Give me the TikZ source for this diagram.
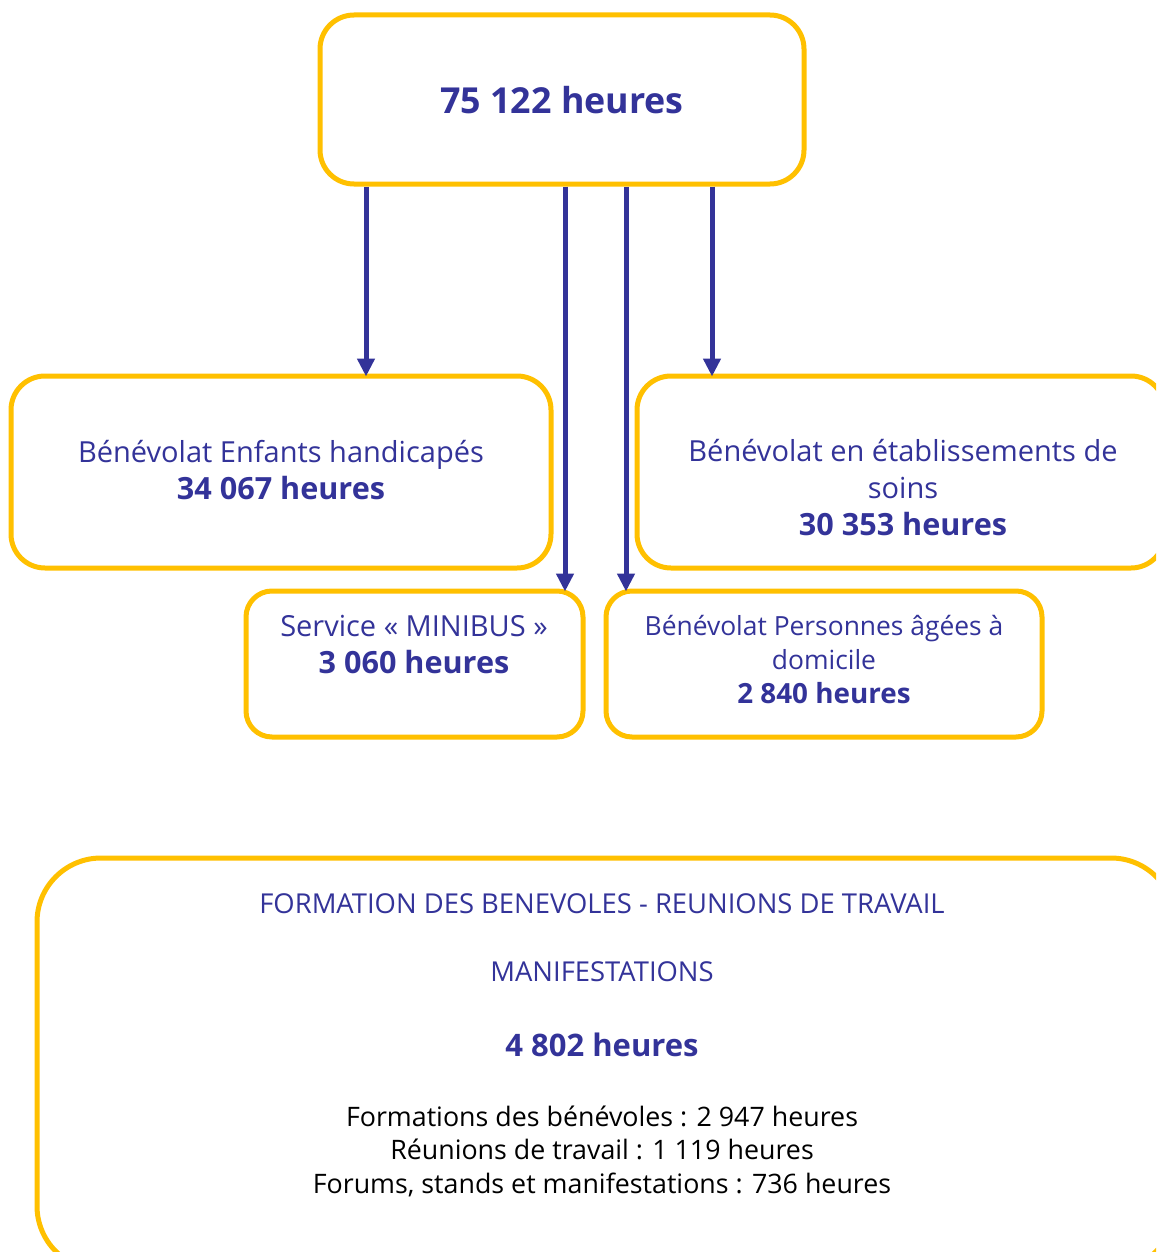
\documentclass[tikz,border=0pt]{standalone}
\usepackage{fontspec}
\setmainfont{Open Sans}
\usetikzlibrary{arrows.meta}
\definecolor{bleu}{HTML}{333399}
\definecolor{jaune}{HTML}{FFC000}
\begin{document}
\begin{tikzpicture}[x=0.5pt,y=-0.5pt,
    boite/.style={draw=jaune, line width=2.5pt, rounded corners=17pt, fill=white},
    texte/.style={text=bleu, align=center, font=\fontsize{14.5}{18.5}\selectfont},
    fleche/.style={draw=bleu, line width=2.5pt, shorten >=-1.5pt,
        -{Triangle[width=8.5pt,length=9pt]}}]
    \useasboundingbox (0,0) rectangle (1156,1252);
    \clip (0,0) rectangle (1156,1252);

    % les cadres
    \node[boite, minimum width=242pt, minimum height=84.5pt] (total) at (562,99.5) {};
    \node[boite, minimum width=270pt, minimum height=96pt] (enfants) at (281,472) {};
    \node[boite, minimum width=264pt, minimum height=96pt] (soins) at (901,472) {};
    \node[boite, minimum width=168.5pt, minimum height=73pt, rounded corners=13pt] (minibus) at (414.5,664) {};
    \node[boite, minimum width=218pt, minimum height=73pt, rounded corners=13pt] (agees) at (824,664) {};
    \node[boite, minimum width=569pt, minimum height=206pt, rounded corners=32pt] (formation) at (606,1064) {};

    % les textes
    \node[texte, font=\bfseries\fontsize{17.9}{22}\selectfont] (totaltxt) at (562,100) {75 122 heures};
    \node[texte] (enfantstxt) at (281,470) {Bénévolat Enfants handicapés\\{\bfseries\fontsize{15.3}{18.5}\selectfont 34 067 heures}};
    \node[texte] (soinstxt) at (903,488) {Bénévolat en établissements de\\soins\\{\bfseries\fontsize{15.3}{18.5}\selectfont 30 353 heures}};
    \node[texte] (minibustxt) at (414,645) {Service « MINIBUS »\\{\bfseries\fontsize{15.3}{18.5}\selectfont 3 060 heures}};
    \node[texte, font=\fontsize{13.2}{17}\selectfont] (ageestxt) at (824,660) {Bénévolat Personnes âgées à\\domicile\\{\bfseries\fontsize{13.9}{17.5}\selectfont 2 840 heures}};
    \node[texte, font=\fontsize{13.7}{17}\selectfont] (titre) at (602,904) {FORMATION DES BENEVOLES - REUNIONS DE TRAVAIL};
    \node[texte, font=\fontsize{13.7}{17}\selectfont] (manif) at (602,972) {MANIFESTATIONS};
    \node[texte, font=\bfseries\fontsize{15.5}{18}\selectfont] (heures) at (602,1045) {4 802 heures};
    \node[texte, text=black, font=\fontsize{13.4}{16.75}\selectfont] (detail) at (602,1151) {Formations des bénévoles : 2 947 heures\\Réunions de travail : 1 119 heures\\Forums, stands et manifestations : 736 heures};

    % les fleches
    \foreach \ax/\cible in {366/enfants, 565/minibus, 626/agees, 712/soins}
        \draw[fleche] (total.south -| \ax,0) -- (\cible.north -| \ax,0);
\end{tikzpicture}
\end{document}
